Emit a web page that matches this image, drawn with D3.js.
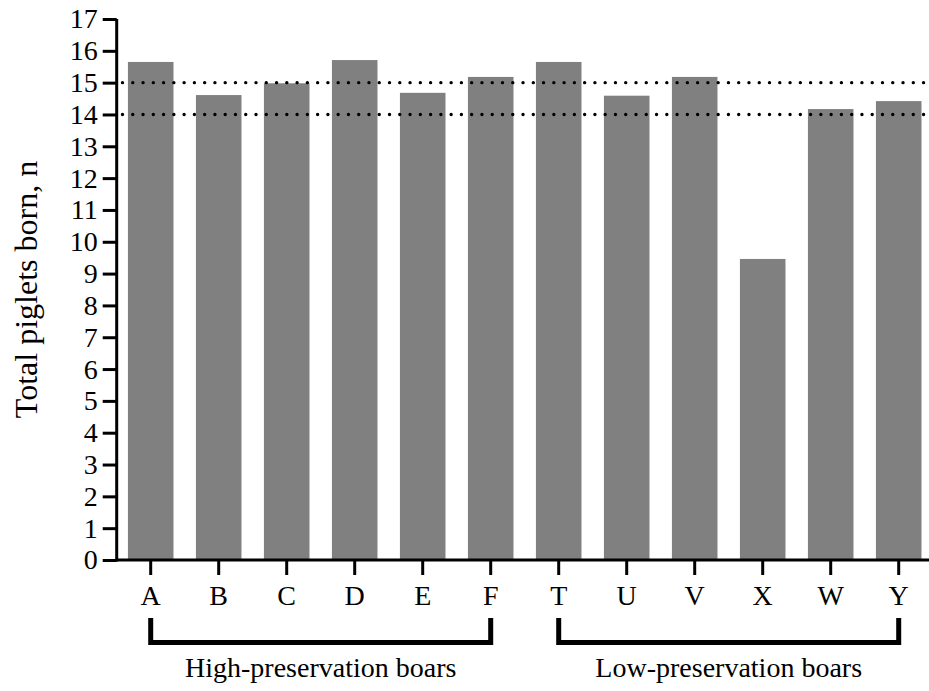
<!DOCTYPE html>
<html>
<head>
<meta charset="utf-8">
<script src="https://cdn.jsdelivr.net/npm/d3@7"></script>
<style>
  html, body { margin: 0; padding: 0; background: #fff; }
  svg { display: block; }
</style>
</head>
<body>
<svg id="chart" width="929" height="691"></svg>
<script>
// Boar identifiers, in plotting order
const boars = ["A", "B", "C", "D", "E", "F", "T", "U", "V", "X", "W", "Y"];
// Mean total piglets born per boar
const totalBorn = [15.65, 14.61, 14.98, 15.71, 14.68, 15.18, 15.65, 14.59, 15.18, 9.46, 14.17, 14.42];
// Reference levels drawn as dotted lines
const refLevels = [14, 15];
// Y tick values
const yTicks = d3.range(0, 18);
// Groups shown under the axis with brackets
const groupNames = ["High-preservation boars", "Low-preservation boars"];
const groupFirst = ["A", "T"];
const groupLast = ["F", "Y"];

const FONT = "Liberation Serif";
const svg = d3.select("#chart");

const x = d3.scaleBand()
  .domain(boars)
  .range([116.7, 932.7])
  .paddingInner(0.33)
  .paddingOuter(0.165);

const y = d3.scaleLinear()
  .domain([0, 17])
  .range([560, 19]);

// Bars
svg.append("g")
  .selectAll("rect")
  .data(boars.map((b, i) => ({ b, v: totalBorn[i] })))
  .join("rect")
  .attr("x", d => x(d.b))
  .attr("y", d => y(d.v))
  .attr("width", x.bandwidth())
  .attr("height", d => y(0) - y(d.v))
  .attr("fill", "#808080");

// Dotted reference lines
svg.append("g")
  .selectAll("line")
  .data(refLevels)
  .join("line")
  .attr("x1", 122.5)
  .attr("x2", 929)
  .attr("y1", d => y(d))
  .attr("y2", d => y(d))
  .attr("stroke", "#000")
  .attr("stroke-width", 3.4)
  .attr("stroke-linecap", "round")
  .attr("stroke-dasharray", "0 10.27");

// Y axis
const yAxis = svg.append("g")
  .attr("transform", "translate(116.7,0)")
  .call(d3.axisLeft(y).tickValues(yTicks).tickFormat(d3.format("d")).tickSize(14).tickSizeOuter(0).tickPadding(5));

// X axis
const xAxis = svg.append("g")
  .attr("transform", "translate(0,560)")
  .call(d3.axisBottom(x).tickSize(15).tickSizeOuter(0).tickPadding(10));

[yAxis, xAxis].forEach(g => {
  g.selectAll("path.domain").attr("stroke", "#000").attr("stroke-width", 3);
  g.selectAll(".tick line").attr("stroke", "#000").attr("stroke-width", 3);
  g.selectAll(".tick text")
    .style("font-family", FONT)
    .style("font-size", "28px")
    .attr("fill", "#000");
});
// extend y-axis line through the x-axis corner
yAxis.select("path.domain").attr("d", `M0,${y(17)}V${y(0) + 1.5}`);
xAxis.select("path.domain").attr("d", `M116.7,0H929`);

// Y axis title
svg.append("text")
  .attr("transform", `translate(37,${(y(0) + y(17)) / 2}) rotate(-90)`)
  .attr("text-anchor", "middle")
  .style("font-family", FONT)
  .style("font-size", "32px")
  .attr("fill", "#000")
  .text("Total piglets born, n");

// Group brackets and labels
const brackets = svg.append("g");
groupNames.forEach((name, i) => {
  const x1 = x(groupFirst[i]) + x.bandwidth() / 2;
  const x2 = x(groupLast[i]) + x.bandwidth() / 2;
  brackets.append("path")
    .attr("d", `M${x1},618V642.5H${x2}V618`)
    .attr("fill", "none")
    .attr("stroke", "#000")
    .attr("stroke-width", 5);
  brackets.append("text")
    .attr("x", (x1 + x2) / 2)
    .attr("y", 677)
    .attr("text-anchor", "middle")
    .style("font-family", FONT)
    .style("font-size", "28px")
    .attr("fill", "#000")
    .text(name);
});
</script>
</body>
</html>
